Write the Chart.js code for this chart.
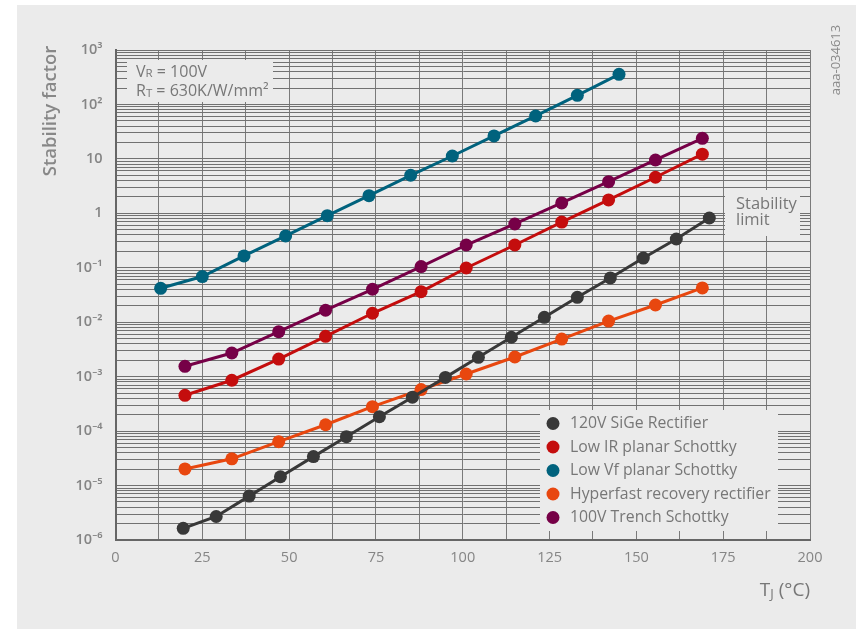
<!DOCTYPE html>
<html>
<head>
<meta charset="utf-8">
<script src="https://cdn.jsdelivr.net/npm/chart.js@4.4.0/dist/chart.umd.min.js"></script>
<style>
  body { margin: 0; background: #ffffff; }
  #wrap { width: 856px; height: 629px; }
</style>
</head>
<body>
<div id="wrap"><canvas id="stabilityChart" width="856" height="629"></canvas></div>
<script>
// Junction temperature (deg C) and stability factor per diode type
const tempSiGe = [19.5, 29, 38.5, 47.5, 57, 66.5, 76, 85.5, 95, 104.5, 114, 123.5, 133, 142.5, 152, 161.5, 171];
const sfSiGe = [1.64e-6, 2.7e-6, 6.4e-6, 1.45e-5, 3.4e-5, 7.9e-5, 1.84e-4, 4.2e-4, 9.7e-4, 2.27e-3, 5.3e-3, 1.23e-2, 2.87e-2, 6.5e-2, 0.151, 0.338, 0.82];

const tempLowIR = [20, 33.5, 47, 60.5, 74, 88, 101, 115, 128.5, 142, 155.5, 169];
const sfLowIR = [4.55e-4, 8.6e-4, 2.1e-3, 5.5e-3, 1.46e-2, 3.64e-2, 0.099, 0.262, 0.69, 1.76, 4.6, 12.2];

const tempLowVf = [13, 25, 37, 49, 61, 73, 85, 97, 109, 121, 133, 145];
const sfLowVf = [0.042, 0.069, 0.165, 0.384, 0.906, 2.11, 5.0, 11.3, 26.4, 61.4, 147, 358];

const tempHyperfast = [20, 33.5, 47, 60.5, 74, 88, 101, 115, 128.5, 142, 155.5, 169];
const sfHyperfast = [2.02e-5, 3.1e-5, 6.4e-5, 1.31e-4, 2.81e-4, 5.8e-4, 1.12e-3, 2.3e-3, 4.9e-3, 1.05e-2, 2.07e-2, 4.26e-2];

const tempTrench = [20, 33.5, 47, 60.5, 74, 88, 101, 115, 128.5, 142, 155.5, 169];
const sfTrench = [1.55e-3, 2.72e-3, 6.7e-3, 1.66e-2, 4.03e-2, 0.105, 0.262, 0.637, 1.55, 3.82, 9.55, 23.9];

const seriesNames = ['120V SiGe Rectifier', 'Low IR planar Schottky', 'Low Vf planar Schottky', 'Hyperfast recovery rectifier', '100V Trench Schottky'];
const seriesColors = ['#383838', '#c40d0d', '#00627d', '#e8470f', '#760047'];

// axis ticks
const xTickValues = [0, 25, 50, 75, 100, 125, 150, 175, 200];
const yDecades = [-6, -5, -4, -3, -2, -1, 0, 1, 2, 3];
const yTickLabels = ['10\u207B\u2076', '10\u207B\u2075', '10\u207B\u2074', '10\u207B\u00B3', '10\u207B\u00B2', '10\u207B\u00B9', '1', '10', '10\u00B2', '10\u00B3'];

const panelBg = '#ebebeb';
const textGrey = '#777777';
const fontFamily = "'Open Sans', 'Noto Sans', sans-serif";

function toPoints(xs, ys) {
  return xs.map((x, i) => ({ x: x, y: ys[i] }));
}

function makeSet(i, xs, ys) {
  return {
    label: seriesNames[i],
    data: toPoints(xs, ys),
    borderColor: seriesColors[i],
    backgroundColor: seriesColors[i],
    pointBackgroundColor: seriesColors[i],
    borderWidth: 3,
    pointRadius: 6.5,
    pointBorderWidth: 0,
    pointHoverRadius: 6.5,
    tension: 0
  };
}

function decadeOf(v) {
  return Math.round(Math.log10(v));
}

function isDecade(v) {
  const l = Math.log10(v);
  return Math.abs(l - Math.round(l)) < 1e-6;
}

// draws text with sub/superscript parts, left aligned
function drawRich(ctx, x, y, parts) {
  let cx = x;
  parts.forEach(p => {
    ctx.font = (p.weight || 'normal') + ' ' + p.size + 'px ' + fontFamily;
    ctx.fillText(p.text, cx, y + (p.dy || 0));
    cx += ctx.measureText(p.text).width;
  });
  return cx - x;
}

function richWidth(ctx, parts) {
  let w = 0;
  parts.forEach(p => {
    ctx.font = (p.weight || 'normal') + ' ' + p.size + 'px ' + fontFamily;
    w += ctx.measureText(p.text).width;
  });
  return w;
}

const decorPlugin = {
  id: 'decor',
  beforeDraw(chart) {
    const ctx = chart.ctx;
    ctx.save();
    ctx.fillStyle = '#ffffff';
    ctx.fillRect(0, 0, chart.width, chart.height);
    ctx.fillStyle = panelBg;
    ctx.fillRect(17, 5, chart.width - 17, chart.height - 5);
    ctx.restore();
  },
  beforeDatasetsDraw(chart) {
    const ctx = chart.ctx;
    ctx.save();
    // boxes that hide the grid behind the notes and the legend
    ctx.fillStyle = panelBg;
    ctx.fillRect(127, 60, 146, 42);
    ctx.fillRect(725, 190, 75, 46);
    ctx.fillRect(540, 410, 238, 121);

    ctx.fillStyle = textGrey;
    ctx.textBaseline = 'middle';
    ctx.textAlign = 'left';
    drawRich(ctx, 136, 72, [
      { text: 'V', size: 16 },
      { text: 'R', size: 11.5, dy: 2 },
      { text: ' = 100V', size: 16 }
    ]);
    drawRich(ctx, 136, 91.5, [
      { text: 'R', size: 16 },
      { text: 'T', size: 11.5, dy: 2 },
      { text: ' = 630K/W/mm\u00B2', size: 16 }
    ]);

    ctx.font = '16.5px ' + fontFamily;
    ctx.fillText('Stability', 736, 204);
    ctx.fillText('limit', 736, 220.5);

    // legend
    chart.data.datasets.forEach((ds, i) => {
      const y = 423.5 + i * 23.5;
      ctx.fillStyle = ds.borderColor;
      ctx.beginPath();
      ctx.arc(553, y, 6.5, 0, Math.PI * 2);
      ctx.fill();
      ctx.fillStyle = textGrey;
      ctx.font = '15.8px ' + fontFamily;
      ctx.fillText(ds.label, 570, y);
    });
    ctx.restore();
  },
  afterDraw(chart) {
    const ctx = chart.ctx;
    ctx.save();
    ctx.fillStyle = '#888888';
    ctx.textBaseline = 'middle';

    // y axis title
    ctx.save();
    ctx.translate(51, 111);
    ctx.rotate(-Math.PI / 2);
    ctx.textAlign = 'center';
    ctx.font = '600 18.5px ' + fontFamily;
    ctx.fillText('Stability factor', 0, 0);
    ctx.restore();

    // x axis title, right aligned at the end of the axis
    ctx.textAlign = 'left';
    ctx.fillStyle = textGrey;
    const parts = [
      { text: 'T', size: 19 },
      { text: 'J', size: 13, dy: 3 },
      { text: ' (\u00B0C)', size: 19 }
    ];
    const w = richWidth(ctx, parts);
    drawRich(ctx, chart.chartArea.right - w, 591, parts);

    // figure code
    ctx.save();
    ctx.translate(836, 60);
    ctx.rotate(-Math.PI / 2);
    ctx.textAlign = 'center';
    ctx.fillStyle = '#8a8a8a';
    ctx.font = '13px ' + fontFamily;
    ctx.fillText('aaa-034613', 0, 0);
    ctx.restore();

    ctx.restore();
  }
};

const ctx = document.getElementById('stabilityChart').getContext('2d');

new Chart(ctx, {
  type: 'line',
  data: {
    datasets: [
      makeSet(0, tempSiGe, sfSiGe),
      makeSet(1, tempLowIR, sfLowIR),
      makeSet(2, tempLowVf, sfLowVf),
      makeSet(3, tempHyperfast, sfHyperfast),
      makeSet(4, tempTrench, sfTrench)
    ]
  },
  options: {
    responsive: false,
    animation: false,
    layout: {
      padding: { left: 0, top: 50, right: 46, bottom: 0 }
    },
    plugins: {
      legend: { display: false },
      tooltip: { enabled: false }
    },
    scales: {
      x: {
        type: 'linear',
        min: 0,
        max: 200,
        afterFit(scale) { scale.height = 89; },
        ticks: {
          stepSize: 12.5,
          autoSkip: false,
          maxRotation: 0,
          padding: 9,
          color: '#858585',
          font: { family: fontFamily, size: 14.5 },
          callback: v => (xTickValues.includes(v) ? String(v) : '')
        },
        grid: {
          color: '#7a7a7a',
          lineWidth: 1,
          drawTicks: false
        },
        border: { color: '#666666', width: 2 }
      },
      y: {
        type: 'logarithmic',
        min: 1e-6,
        max: 1e3,
        afterFit(scale) { scale.width = 115.5; },
        afterBuildTicks(scale) {
          const ticks = [];
          yDecades.forEach(e => {
            const top = e === yDecades[yDecades.length - 1] ? 1 : 9;
            for (let m = 1; m <= top; m++) {
              ticks.push({ value: parseFloat((m * Math.pow(10, e)).toPrecision(6)) });
            }
          });
          scale.ticks = ticks;
        },
        ticks: {
          autoSkip: false,
          padding: 13,
          color: '#858585',
          font: { family: fontFamily, size: 14.5, weight: '600' },
          callback: v => (isDecade(v) ? yTickLabels[yDecades.indexOf(decadeOf(v))] : '')
        },
        grid: {
          color: '#717171',
          lineWidth: 1,
          drawTicks: false
        },
        border: { color: '#666666', width: 2 }
      }
    }
  },
  plugins: [decorPlugin]
});
</script>
</body>
</html>
